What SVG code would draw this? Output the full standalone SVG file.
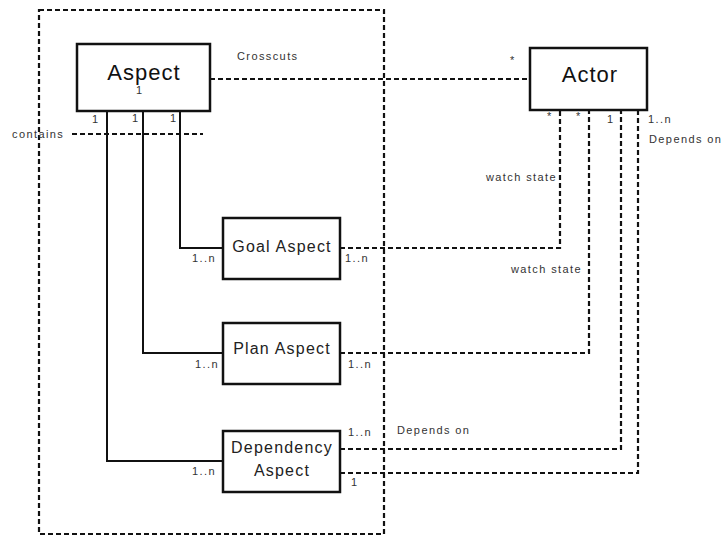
<svg xmlns="http://www.w3.org/2000/svg" width="728" height="536" viewBox="0 0 728 536">
<style>
.box{fill:#fff;stroke:#111;stroke-width:2.5}
.solid{fill:none;stroke:#111;stroke-width:2}
.dash{fill:none;stroke:#111;stroke-width:2.2;stroke-dasharray:5 3}
.big{font-family:"Liberation Sans",Arial,sans-serif;font-size:22px;letter-spacing:1px;fill:#111;text-anchor:middle}
.mid{font-family:"Liberation Sans",Arial,sans-serif;font-size:16px;letter-spacing:1.2px;fill:#222;text-anchor:middle}
.lbl{font-family:"Liberation Sans",Arial,sans-serif;font-size:11px;letter-spacing:1.4px;fill:#333}
</style>
<rect width="728" height="536" fill="#fff"/>
<g id="container">
<rect x="39" y="10" width="345" height="524" class="dash"/>
</g>
<g id="connectors">
<path class="dash" d="M210 79H530"/>
<path class="dash" d="M72 134H203"/>
<path class="solid" d="M107 111V461H223"/>
<path class="solid" d="M143 111V353H223"/>
<path class="solid" d="M180 111V248H223"/>
<path class="dash" d="M340 248H560V110"/>
<path class="dash" d="M340 353H589V110"/>
<path class="dash" d="M340 449H621V110"/>
<path class="dash" d="M340 473H638V110"/>
</g>
<g id="aspect">
<rect x="77" y="44" width="133" height="67" class="box"/>
<text x="144" y="80" class="big">Aspect</text>
</g>
<g id="actor">
<rect x="530" y="48" width="117" height="62" class="box"/>
<text x="590" y="82" class="big">Actor</text>
</g>
<g id="goal-aspect">
<rect x="223" y="218" width="117" height="61" class="box"/>
<text x="282" y="252" class="mid">Goal Aspect</text>
</g>
<g id="plan-aspect">
<rect x="223" y="323" width="117" height="61" class="box"/>
<text x="282" y="354" class="mid">Plan Aspect</text>
</g>
<g id="dependency-aspect">
<rect x="223" y="431" width="117" height="61" class="box"/>
<text x="282" y="453" class="mid">Dependency</text>
<text x="282" y="476" class="mid">Aspect</text>
</g>
<g id="labels">
<text x="237" y="60" class="lbl">Crosscuts</text>
<text x="510" y="64" class="lbl">*</text>
<text x="136" y="94" class="lbl">1</text>
<text x="92" y="123" class="lbl">1</text>
<text x="132" y="122" class="lbl">1</text>
<text x="170" y="122" class="lbl">1</text>
<text x="12" y="138" class="lbl">contains</text>
<text x="547" y="120" class="lbl">*</text>
<text x="576" y="120" class="lbl">*</text>
<text x="607" y="123" class="lbl">1</text>
<text x="648" y="123" class="lbl">1..n</text>
<text x="649" y="143" class="lbl">Depends on</text>
<text x="557" y="181" class="lbl" text-anchor="end">watch state</text>
<text x="582" y="273" class="lbl" text-anchor="end">watch state</text>
<text x="192" y="262" class="lbl">1..n</text>
<text x="345" y="262" class="lbl">1..n</text>
<text x="195" y="368" class="lbl">1..n</text>
<text x="348" y="368" class="lbl">1..n</text>
<text x="348" y="436" class="lbl">1..n</text>
<text x="397" y="434" class="lbl">Depends on</text>
<text x="192" y="475" class="lbl">1..n</text>
<text x="351" y="486" class="lbl">1</text>
</g>
</svg>
